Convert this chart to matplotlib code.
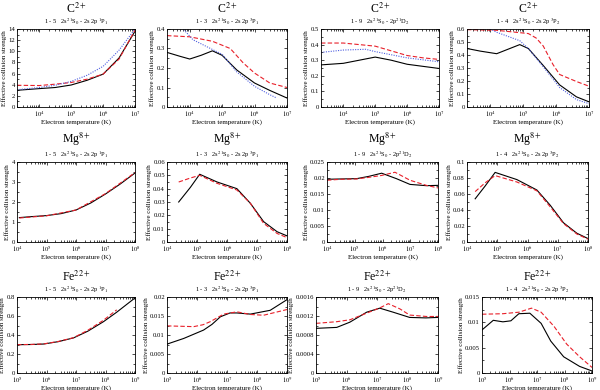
import numpy as np
import matplotlib.pyplot as plt
from matplotlib.ticker import FuncFormatter, LogLocator, MultipleLocator, AutoMinorLocator, NullFormatter

plt.rcParams['font.family'] = ['Liberation Serif', 'DejaVu Serif']
plt.rcParams['mathtext.fontset'] = 'stix'

# ---- data: log10(T) and effective collision strengths ----
# C2+  (black = this work, red dashed, blue dotted)
c_15_bk_t = [3.3, 4.0, 4.5, 5.0, 5.5, 6.0, 6.5, 7.0]
c_15_bk = [3.0, 3.3, 3.5, 3.95, 4.8, 5.9, 8.8, 13.6]
c_15_rd_t = [3.3, 4.0, 4.5, 5.0, 5.5, 6.0, 6.5, 7.0]
c_15_rd = [3.9, 3.85, 4.1, 4.4, 5.0, 5.9, 8.6, 13.8]
c_15_bl_t = [3.3, 4.0, 4.5, 5.0, 5.5, 6.0, 6.5, 7.0]
c_15_bl = [3.1, 3.5, 3.9, 4.6, 5.7, 7.3, 10.2, 14.0]

c_13_bk_t = [3.3, 3.7, 4.0, 4.35, 4.7, 5.0, 5.45, 6.0, 6.47, 7.0]
c_13_bk = [0.28, 0.26, 0.246, 0.265, 0.288, 0.265, 0.19, 0.123, 0.085, 0.046]
c_13_rd_t = [3.3, 4.0, 4.7, 5.25, 5.65, 6.0, 6.47, 7.0]
c_13_rd = [0.366, 0.36, 0.337, 0.30, 0.226, 0.174, 0.123, 0.10]
c_13_bl_t = [3.3, 3.8, 4.1, 5.0, 5.45, 6.0, 6.47, 6.68]
c_13_bl = [0.47, 0.40, 0.345, 0.27, 0.18, 0.106, 0.063, 0.046]

c_19_bk_t = [3.3, 4.0, 4.5, 5.0, 5.5, 6.0, 7.0]
c_19_bk = [0.27, 0.28, 0.30, 0.32, 0.30, 0.274, 0.247]
c_19_rd_t = [3.3, 4.0, 5.0, 5.5, 6.0, 6.5, 7.0]
c_19_rd = [0.41, 0.41, 0.39, 0.36, 0.33, 0.315, 0.305]
c_19_bl_t = [3.3, 4.0, 4.7, 5.0, 5.5, 6.0, 7.0]
c_19_bl = [0.35, 0.365, 0.37, 0.355, 0.335, 0.315, 0.29]

c_14_bk_t = [3.3, 3.7, 4.2, 4.6, 4.9, 5.16, 5.61, 6.11, 6.62, 7.0]
c_14_bk = [0.45, 0.43, 0.41, 0.45, 0.48, 0.45, 0.32, 0.17, 0.078, 0.04]
c_14_rd_t = [3.3, 4.2, 5.16, 5.4, 5.61, 5.91, 6.11, 6.62, 7.0]
c_14_rd = [0.595, 0.59, 0.565, 0.53, 0.47, 0.326, 0.25, 0.196, 0.16]
c_14_bl_t = [4.0, 4.2, 4.9, 5.16, 5.61, 6.11, 6.62, 7.0]
c_14_bl = [0.60, 0.575, 0.51, 0.45, 0.31, 0.15, 0.057, 0.026]

# Mg8+
mg_15_bk_t = [4.08, 4.5, 5.0, 5.5, 6.0, 6.5, 7.0, 7.5, 8.0]
mg_15_bk = [1.22, 1.27, 1.32, 1.42, 1.6, 1.95, 2.4, 2.9, 3.45]
mg_15_rd_t = [4.08, 5.0, 6.0, 7.0, 8.0]
mg_15_rd = [1.2, 1.31, 1.6, 2.42, 3.47]

mg_13_bk_t = [4.39, 4.78, 5.09, 5.67, 6.33, 6.78, 7.22, 7.67, 8.0]
mg_13_bk = [0.030, 0.041, 0.0508, 0.045, 0.040, 0.029, 0.0153, 0.0077, 0.0046]
mg_13_rd_t = [4.39, 4.78, 5.09, 5.67, 6.33, 6.78, 7.22, 7.67, 8.0]
mg_13_rd = [0.045, 0.048, 0.050, 0.044, 0.039, 0.029, 0.014, 0.0064, 0.0033]

mg_19_bk_t = [4.0, 4.5, 5.07, 5.5, 5.97, 6.5, 6.99, 7.58, 8.0]
mg_19_bk = [0.0196, 0.0197, 0.0198, 0.0205, 0.0215, 0.0198, 0.0180, 0.0176, 0.0177]
mg_19_rd_t = [4.0, 4.5, 5.07, 5.5, 5.97, 6.45, 6.99, 7.58, 8.0]
mg_19_rd = [0.0193, 0.0196, 0.0197, 0.0202, 0.0208, 0.0218, 0.0193, 0.0177, 0.0169]

mg_14_bk_t = [4.27, 4.6, 4.93, 5.65, 6.31, 6.75, 7.19, 7.63, 8.0]
mg_14_bk = [0.054, 0.070, 0.087, 0.078, 0.065, 0.046, 0.024, 0.011, 0.0043]
mg_14_rd_t = [4.27, 4.6, 4.93, 5.65, 6.31, 6.75, 7.19, 7.63, 8.0]
mg_14_rd = [0.063, 0.074, 0.083, 0.075, 0.064, 0.044, 0.023, 0.010, 0.0035]

# Fe22+
fe_15_bk_t = [5.0, 5.5, 5.9, 6.4, 6.92, 7.4, 7.93, 8.38, 9.0]
fe_15_bk = [0.298, 0.30, 0.305, 0.33, 0.37, 0.44, 0.54, 0.64, 0.79]
fe_15_rd_t = [5.0, 5.5, 5.9, 6.4, 6.92, 7.4, 7.93, 8.38]
fe_15_rd = [0.298, 0.301, 0.306, 0.332, 0.372, 0.45, 0.555, 0.665]

fe_13_bk_t = [5.0, 5.56, 6.22, 6.5, 6.78, 7.1, 7.33, 7.78, 8.44, 9.0]
fe_13_bk = [0.0076, 0.0091, 0.0113, 0.0128, 0.0148, 0.0158, 0.0158, 0.0155, 0.0165, 0.0193]
fe_13_rd_t = [5.0, 5.89, 6.2, 6.44, 6.89, 7.33, 7.78, 8.22, 9.0]
fe_13_rd = [0.0124, 0.0122, 0.0127, 0.0135, 0.0155, 0.0161, 0.0154, 0.0152, 0.0167]

fe_19_bk_t = [5.0, 5.68, 6.11, 6.66, 7.09, 7.53, 8.07, 8.6, 9.0]
fe_19_bk = [0.00094, 0.00096, 0.00107, 0.00128, 0.001365, 0.00128, 0.00117, 0.00116, 0.00117]
fe_19_rd_t = [5.0, 5.68, 6.11, 6.66, 7.09, 7.37, 7.75, 8.07, 8.62, 9.0]
fe_19_rd = [0.001045, 0.00108, 0.00112, 0.00126, 0.00137, 0.00146, 0.00135, 0.00122, 0.00119, 0.00119]

fe_14_bk_t = [5.0, 5.41, 5.76, 6.05, 6.34, 6.74, 7.15, 7.5, 7.97, 8.55, 9.0]
fe_14_bk = [0.0085, 0.0104, 0.0101, 0.0103, 0.0117, 0.0118, 0.0098, 0.0063, 0.0032, 0.0013, 0.0004]
fe_14_rd_t = [5.0, 5.76, 6.34, 6.8, 7.15, 7.62, 8.08, 8.55, 9.0]
fe_14_rd = [0.0116, 0.0117, 0.012, 0.0128, 0.012, 0.0092, 0.0057, 0.0032, 0.0011]

ions = ['C$^{2+}$', 'Mg$^{8+}$', 'Fe$^{22+}$']
transitions = [
    '1 - 5   2s$^{2\\,1}$S$_{0}$ - 2s 2p $^{1}$P$_{1}$',
    '1 - 3   2s$^{2\\,1}$S$_{0}$ - 2s 2p $^{3}$P$_{1}$',
    '1 - 9   2s$^{2\\,1}$S$_{0}$ - 2p$^{2\\,1}$D$_{2}$',
    '1 - 4   2s$^{2\\,1}$S$_{0}$ - 2s 2p $^{3}$P$_{2}$',
]
xlims = [(10**3.3, 1e7), (1e4, 1e8), (1e5, 1e9)]
ylims = [[(0, 14, 2), (0, 0.4, 0.1), (0, 0.5, 0.1), (0, 0.6, 0.1)],
         [(0, 4, 1), (0, 0.06, 0.01), (0, 0.025, 0.005), (0, 0.1, 0.02)],
         [(0, 0.8, 0.2), (0, 0.02, 0.005), (0, 0.0016, 0.0004), (0, 0.015, 0.005)]]

panels = [
    [[(c_15_bk_t, c_15_bk), (c_15_rd_t, c_15_rd), (c_15_bl_t, c_15_bl)],
     [(c_13_bk_t, c_13_bk), (c_13_rd_t, c_13_rd), (c_13_bl_t, c_13_bl)],
     [(c_19_bk_t, c_19_bk), (c_19_rd_t, c_19_rd), (c_19_bl_t, c_19_bl)],
     [(c_14_bk_t, c_14_bk), (c_14_rd_t, c_14_rd), (c_14_bl_t, c_14_bl)]],
    [[(mg_15_bk_t, mg_15_bk), (mg_15_rd_t, mg_15_rd)],
     [(mg_13_bk_t, mg_13_bk), (mg_13_rd_t, mg_13_rd)],
     [(mg_19_bk_t, mg_19_bk), (mg_19_rd_t, mg_19_rd)],
     [(mg_14_bk_t, mg_14_bk), (mg_14_rd_t, mg_14_rd)]],
    [[(fe_15_bk_t, fe_15_bk), (fe_15_rd_t, fe_15_rd)],
     [(fe_13_bk_t, fe_13_bk), (fe_13_rd_t, fe_13_rd)],
     [(fe_19_bk_t, fe_19_bk), (fe_19_rd_t, fe_19_rd)],
     [(fe_14_bk_t, fe_14_bk), (fe_14_rd_t, fe_14_rd)]],
]

styles = [dict(color='black', ls='-', lw=0.8),
          dict(color='#e8202a', ls=(0, (4, 2)), lw=0.8),
          dict(color='#5060e0', ls=(0, (1, 1.2)), lw=0.8)]

# axes boxes in pixels (left, right) per panel, (top, bottom) per row
W, H = 600, 390
rows_tb = [(29, 107), (162, 242), (297, 373)]
cols_lr = [[(17, 135), (167, 287), (321, 439), (467, 589)],
           [(17, 135), (167, 287), (327, 438), (467, 588)],
           [(17, 135), (167, 287), (316, 438), (482, 592)]]

fig = plt.figure(figsize=(6, 3.9), dpi=100)

def pow_label(v, pos):
    return '$10^{%d}$' % int(round(np.log10(v)))

for r in range(3):
    top, bot = rows_tb[r]
    for c in range(4):
        l, rr = cols_lr[r][c]
        ax = fig.add_axes([l / W, 1 - bot / H, (rr - l) / W, (bot - top) / H])
        for (t, v), st in zip(panels[r][c], styles):
            ax.plot(10 ** np.array(t), v, **st)
        ax.set_xscale('log')
        ax.set_xlim(*xlims[r])
        y0, y1, dy = ylims[r][c]
        ax.set_ylim(y0, y1)
        ax.yaxis.set_major_locator(MultipleLocator(dy))
        ax.yaxis.set_minor_locator(AutoMinorLocator(2))
        ax.yaxis.set_major_formatter(FuncFormatter(lambda v, p: '%g' % round(v, 6)))
        ax.xaxis.set_major_locator(LogLocator(base=10, numticks=10))
        ax.xaxis.set_minor_locator(LogLocator(base=10, subs=np.arange(2, 10), numticks=20))
        ax.xaxis.set_major_formatter(FuncFormatter(pow_label))
        ax.xaxis.set_minor_formatter(NullFormatter())
        ax.tick_params(which='both', direction='in', top=True, right=True,
                       labelsize=4.8, pad=1.5, width=0.5)
        ax.tick_params(which='major', length=2.5)
        ax.tick_params(which='minor', length=1.3)
        for s in ax.spines.values():
            s.set_linewidth(0.6)
        ax.set_xlabel('Electron temperature (K)', fontsize=5, labelpad=0)
        ax.set_ylabel('Effective collision strength', fontsize=5, labelpad=1)
        ax.text(0.5, 1.03, transitions[c], transform=ax.transAxes,
                ha='center', va='bottom', fontsize=4.6)
        ax.text(0.5, 1.17, ions[r], transform=ax.transAxes,
                ha='center', va='bottom', fontsize=8.5)

fig.savefig('out.png', dpi=100)
